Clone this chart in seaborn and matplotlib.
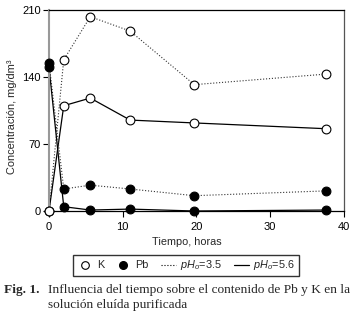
import matplotlib
matplotlib.use("Agg")
import matplotlib.pyplot as plt
from matplotlib.lines import Line2D
import seaborn as sns
import pandas as pd

# ---- data ----
time_h = [0, 2, 5.6, 11, 19.7, 37.5]
k_ph35 = [0, 158, 203, 188, 132, 143]
k_ph56 = [0, 110, 118, 95, 92, 86]
pb_ph35 = [155, 23, 27, 23, 16, 21]
pb_ph56 = [150, 4.5, 1, 2, 0, 1]
x_ticks = [0, 10, 20, 30, 40]
y_ticks = [0, 70, 140, 210]
legend_labels = ["K", "Pb", r"$pH_o$=3.5", r"$pH_o$=5.6"]

sns.set_style("ticks")
plt.rcParams["font.family"] = ["Liberation Sans", "DejaVu Sans"]
plt.rcParams["mathtext.fontset"] = "custom"
plt.rcParams["mathtext.it"] = "Liberation Sans:italic"
plt.rcParams["mathtext.rm"] = "Liberation Sans"

fig = plt.figure(figsize=(3.56, 3.19), dpi=100)
ax = fig.add_axes([49/356, 1-211/319, 295/356, 201/319])

series = [
    (k_ph35, ":", "white", 0.8, "#333333"),
    (k_ph56, "-", "white", 0.9, "black"),
    (pb_ph35, ":", "black", 0.8, "#333333"),
    (pb_ph56, "-", "black", 0.9, "black"),
]
for vals, ls, fc, lw, lc in series:
    df = pd.DataFrame({"t": time_h, "c": vals})
    sns.lineplot(data=df, x="t", y="c", ax=ax, color=lc, linestyle=ls,
                 linewidth=lw, clip_on=False, zorder=2)
for vals, ls, fc, lw, lc in series:
    df = pd.DataFrame({"t": time_h, "c": vals})
    sns.scatterplot(data=df, x="t", y="c", ax=ax, s=40, marker="o",
                    facecolor=fc, edgecolor="black", linewidth=0.8,
                    clip_on=False, zorder=3)

ax.set_xlim(0, 40)
ax.set_ylim(0, 210)
ax.set_xticks(x_ticks)
ax.set_yticks(y_ticks)
ax.tick_params(labelsize=8, length=4, width=0.8, colors="black", pad=2)
ax.tick_params(axis="x", pad=4)
for s in ["top", "right", "bottom"]:
    ax.spines[s].set_visible(True)
    ax.spines[s].set_color("black")
    ax.spines[s].set_linewidth(0.9)
ax.spines["right"].set_color("#555555")
ax.spines["left"].set_color("#999999")
ax.spines["left"].set_linewidth(1.5)
ax.set_xlabel("Tiempo, horas", fontsize=7.8)
ax.set_ylabel("Concentración, mg/dm³", fontsize=7.9)
ax.xaxis.set_label_coords((187-49)/295, -(237-211)/201)
ax.yaxis.set_label_coords(-(49-17)/295, 0.47)

handles = [
    Line2D([], [], ls="none", marker="o", mfc="white", mec="black", ms=5.5, mew=0.8),
    Line2D([], [], ls="none", marker="o", mfc="black", mec="black", ms=5.5),
    Line2D([], [], ls=":", color="black", lw=0.8),
    Line2D([], [], ls="-", color="black", lw=0.9),
]
leg = fig.legend(handles, legend_labels, loc="center", ncol=4,
                 bbox_to_anchor=(186/356, 1-265.5/319), fontsize=7.8,
                 frameon=True, fancybox=False, handlelength=1.4,
                 handletextpad=0.4, columnspacing=1.1, borderpad=0.35,
                 edgecolor="black")
leg.get_frame().set_linewidth(1.0)

fig.text(4/356, 1-290/319, "Fig. 1.", fontsize=9.6, fontweight="bold",
         family="Liberation Serif", va="center")
fig.text(48/356, 1-290/319,
         "Influencia del tiempo sobre el contenido de Pb y K en la",
         fontsize=9.6, family="Liberation Serif", va="center")
fig.text(48/356, 1-305/319, "solución eluída purificada",
         fontsize=9.6, family="Liberation Serif", va="center")

fig.savefig("out.png", dpi=100)
